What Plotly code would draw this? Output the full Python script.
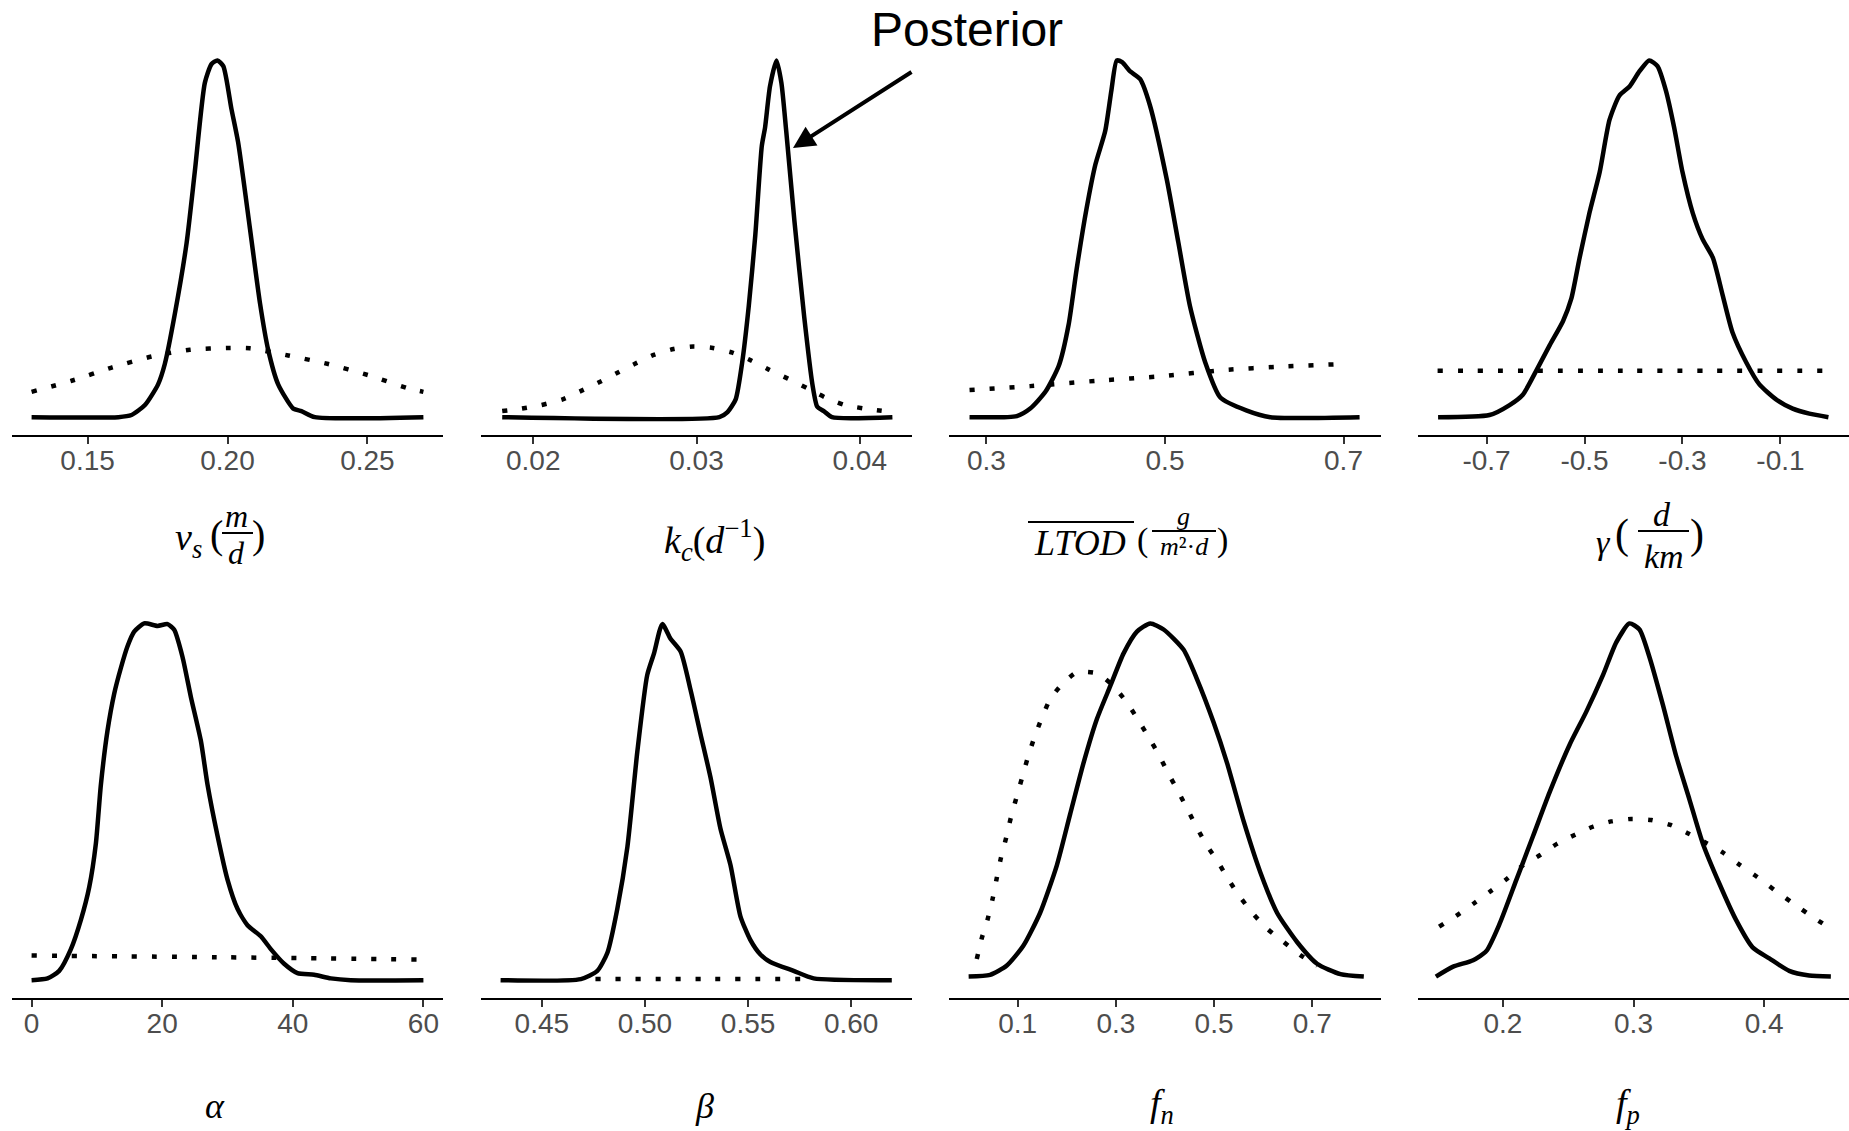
import plotly.graph_objects as go

W, H = 1849, 1131

# ---------------- data (relative density, peak = 1) ----------------
vs_post_x = [0.130, 0.161, 0.1657, 0.1705, 0.1752, 0.1776, 0.1812, 0.1854, 0.1883, 0.1919, 0.1943, 0.1964,
             0.1985, 0.2014, 0.2038, 0.2080, 0.2116, 0.2145, 0.2181, 0.2235, 0.2264, 0.2312, 0.270]
vs_post_y = [0, 0, 0.006, 0.034, 0.092, 0.149, 0.29, 0.489, 0.687, 0.937, 0.99, 1.0,
             0.984, 0.864, 0.77, 0.53, 0.32, 0.19, 0.092, 0.024, 0.017, 0, 0]
vs_prior_x = [0.130, 0.1443, 0.1586, 0.1729, 0.1865, 0.2008, 0.2080, 0.2217, 0.2360, 0.2502, 0.2645, 0.270]
vs_prior_y = [0.071, 0.102, 0.139, 0.170, 0.189, 0.194, 0.193, 0.173, 0.149, 0.118, 0.081, 0.071]

kc_post_x = [0.0181, 0.0314, 0.0319, 0.0324, 0.0328, 0.0332, 0.0336, 0.0340, 0.0342, 0.0345, 0.0349, 0.0352,
             0.0355, 0.0360, 0.0366, 0.0371, 0.0374, 0.0378, 0.0383, 0.042]
kc_post_y = [0, 0, 0.014, 0.05, 0.154, 0.311, 0.509, 0.76, 0.812, 0.927, 1.0, 0.937,
             0.8, 0.549, 0.28, 0.092, 0.029, 0.017, 0, 0]
kc_prior_x = [0.0181, 0.0193, 0.0205, 0.0218, 0.0229, 0.0240, 0.0251, 0.0262, 0.0273, 0.0286, 0.0298,
              0.0310, 0.0322, 0.0333, 0.0344, 0.0356, 0.0368, 0.0379, 0.0391, 0.0403, 0.0415]
kc_prior_y = [0.017, 0.024, 0.034, 0.05, 0.073, 0.097, 0.123, 0.149, 0.173, 0.191, 0.198,
              0.194, 0.181, 0.16, 0.134, 0.108, 0.081, 0.055, 0.034, 0.024, 0.017]

ltod_post_x = [0.281, 0.334, 0.349, 0.366, 0.381, 0.392, 0.401, 0.412, 0.422, 0.433, 0.440, 0.446,
               0.452, 0.461, 0.472, 0.483, 0.502, 0.515, 0.528, 0.545, 0.562, 0.591, 0.618, 0.718]
ltod_post_y = [0, 0.003, 0.024, 0.071, 0.144, 0.259, 0.415, 0.583, 0.708, 0.802, 0.917, 1.0,
               0.995, 0.969, 0.948, 0.875, 0.666, 0.489, 0.311, 0.154, 0.055, 0.019, 0, 0]
ltod_prior_x = [0.281, 0.349, 0.424, 0.498, 0.565, 0.632, 0.700]
ltod_prior_y = [0.076, 0.087, 0.102, 0.115, 0.132, 0.142, 0.149]

gam_post_x = [-0.799, -0.694, -0.653, -0.626, -0.599, -0.571, -0.544, -0.527, -0.510, -0.490, -0.469,
              -0.449, -0.429, -0.408, -0.388, -0.368, -0.351, -0.334, -0.317, -0.300, -0.279, -0.259,
              -0.238, -0.218, -0.198, -0.170, -0.143, -0.109, -0.075, -0.041, -0.002]
gam_post_y = [0, 0.006, 0.034, 0.063, 0.129, 0.202, 0.269, 0.332, 0.447, 0.572, 0.687,
              0.833, 0.901, 0.927, 0.969, 1.0, 0.984, 0.916, 0.812, 0.687, 0.572, 0.499,
              0.447, 0.342, 0.238, 0.154, 0.092, 0.050, 0.024, 0.010, 0]
gam_prior_x = [-0.8, -0.4, 0.0]
gam_prior_y = [0.13, 0.13, 0.13]

alpha_post_x = [0, 2.45, 4.23, 6.02, 7.55, 8.83, 9.85, 10.61, 11.63, 12.65, 13.67, 14.69, 15.71, 17.24,
                19.29, 20.82, 21.84, 23.11, 24.39, 25.92, 26.94, 28.47, 30.0, 31.53, 33.06, 35.1, 36.63,
                38.67, 40.71, 43.27, 45.82, 48.88, 60]
alpha_post_y = [0, 0.005, 0.026, 0.087, 0.169, 0.261, 0.384, 0.548, 0.7, 0.803, 0.875, 0.936, 0.977, 1.0,
                0.993, 0.998, 0.982, 0.906, 0.794, 0.671, 0.548, 0.405, 0.282, 0.200, 0.154, 0.123, 0.087,
                0.046, 0.020, 0.015, 0.005, 0, 0]
alpha_prior_x = [0, 30, 59]
alpha_prior_y = [0.069, 0.064, 0.058]

beta_post_x = [0.430, 0.4689, 0.4769, 0.4818, 0.4866, 0.4915, 0.4963, 0.5011, 0.5044, 0.5084, 0.5124,
               0.5173, 0.5221, 0.5269, 0.5318, 0.5366, 0.5415, 0.5463, 0.5511, 0.5560, 0.5608, 0.5721,
               0.5818, 0.6197]
beta_post_y = [0, 0.003, 0.026, 0.077, 0.2, 0.374, 0.64, 0.855, 0.916, 0.998, 0.957,
               0.921, 0.814, 0.691, 0.568, 0.425, 0.322, 0.179, 0.113, 0.072, 0.051, 0.026,
               0.005, 0]
beta_prior_x = [0.476, 0.528, 0.580]
beta_prior_y = [0.003, 0.003, 0.003]

fn_post_x = [0.0, 0.0438, 0.0778, 0.1117, 0.1457, 0.1797, 0.2069, 0.2341, 0.2613, 0.2884, 0.3156, 0.3428,
             0.37, 0.3972, 0.438, 0.4651, 0.4991, 0.5263, 0.5603, 0.5943, 0.6282, 0.669, 0.7098, 0.7574, 0.805]
fn_post_y = [0.01, 0.015, 0.041, 0.097, 0.189, 0.322, 0.466, 0.609, 0.732, 0.824, 0.916, 0.977,
             1.0, 0.983, 0.926, 0.844, 0.722, 0.609, 0.445, 0.302, 0.189, 0.107, 0.046, 0.017, 0.01]
fn_prior_x = [0.0166, 0.0268, 0.0384, 0.0492, 0.0574, 0.0655, 0.0764, 0.0859, 0.0968, 0.1084, 0.1199,
              0.1335, 0.1491, 0.1661, 0.19, 0.2205, 0.2613, 0.2918, 0.3224, 0.3442, 0.3666, 0.387,
              0.4053, 0.4257, 0.4461, 0.4651, 0.4855, 0.5073, 0.5297, 0.5535, 0.5807, 0.6092, 0.6418,
              0.6758, 0.71]
fn_prior_y = [0.059, 0.118, 0.169, 0.23, 0.287, 0.341, 0.399, 0.455, 0.509, 0.565, 0.621,
              0.679, 0.735, 0.788, 0.829, 0.863, 0.86, 0.829, 0.778, 0.732, 0.681, 0.633,
              0.583, 0.532, 0.478, 0.427, 0.377, 0.333, 0.281, 0.232, 0.184, 0.143, 0.107,
              0.07, 0.041]

fp_post_x = [0.1487, 0.1619, 0.1772, 0.1874, 0.1976, 0.2103, 0.2231, 0.2358, 0.2511, 0.2638, 0.2766,
             0.2868, 0.2969, 0.3046, 0.3122, 0.3224, 0.3326, 0.3428, 0.353, 0.3657, 0.3785, 0.3912,
             0.404, 0.4192, 0.4345, 0.4511]
fp_post_y = [0.01, 0.038, 0.056, 0.082, 0.159, 0.281, 0.404, 0.527, 0.66, 0.752, 0.855,
             0.947, 1.0, 0.983, 0.906, 0.773, 0.629, 0.507, 0.384, 0.271, 0.169, 0.092,
             0.061, 0.026, 0.013, 0.01]
fp_prior_x = [0.1512, 0.1645, 0.1777, 0.1904, 0.2032, 0.2154, 0.2287, 0.2414, 0.2549, 0.2689, 0.2829,
              0.2982, 0.3135, 0.3283, 0.3415, 0.355, 0.3683, 0.381, 0.3945, 0.4078, 0.4205, 0.4332, 0.446]
fp_prior_y = [0.15, 0.181, 0.215, 0.249, 0.284, 0.322, 0.351, 0.382, 0.407, 0.43, 0.445,
              0.452, 0.449, 0.435, 0.412, 0.386, 0.358, 0.324, 0.29, 0.253, 0.22, 0.187, 0.156]

# data range (before 5% expansion), tick values and labels per panel
x_limits = [(0.13, 0.27), (0.018, 0.042), (0.28, 0.72), (-0.8, 0.0),
            (0, 60), (0.43, 0.62), (0.0, 0.8), (0.15, 0.45)]
tick_vals = [[0.15, 0.20, 0.25], [0.02, 0.03, 0.04], [0.3, 0.5, 0.7], [-0.7, -0.5, -0.3, -0.1],
             [0, 20, 40, 60], [0.45, 0.50, 0.55, 0.60], [0.1, 0.3, 0.5, 0.7], [0.2, 0.3, 0.4]]
tick_text = [["0.15", "0.20", "0.25"], ["0.02", "0.03", "0.04"], ["0.3", "0.5", "0.7"],
             ["-0.7", "-0.5", "-0.3", "-0.1"], ["0", "20", "40", "60"],
             ["0.45", "0.50", "0.55", "0.60"], ["0.1", "0.3", "0.5", "0.7"], ["0.2", "0.3", "0.4"]]

posteriors = [(vs_post_x, vs_post_y), (kc_post_x, kc_post_y), (ltod_post_x, ltod_post_y),
              (gam_post_x, gam_post_y), (alpha_post_x, alpha_post_y), (beta_post_x, beta_post_y),
              (fn_post_x, fn_post_y), (fp_post_x, fp_post_y)]
priors = [(vs_prior_x, vs_prior_y), (kc_prior_x, kc_prior_y), (ltod_prior_x, ltod_prior_y),
          (gam_prior_x, gam_prior_y), (alpha_prior_x, alpha_prior_y), (beta_prior_x, beta_prior_y),
          (fn_prior_x, fn_prior_y), (fp_prior_x, fp_prior_y)]

# ---------------- layout geometry (pixels) ----------------
col_px = [(12, 443), (481, 912), (949, 1381), (1418, 1849)]
row_px = [(39, 435), (602, 998)]


def px(x):
    return x / W


def py(y):
    return 1 - y / H


fig = go.Figure()
layout = dict(width=W, height=H, margin=dict(l=0, r=0, t=0, b=0),
              plot_bgcolor="white", paper_bgcolor="white", showlegend=False)

for i in range(8):
    r, c = divmod(i, 4)
    n = "" if i == 0 else str(i + 1)
    lo, hi = x_limits[i]
    pad = 0.05 * (hi - lo)
    layout["xaxis" + n] = dict(
        domain=[px(col_px[c][0]), px(col_px[c][1])], anchor="y" + n,
        range=[lo - pad, hi + pad], tickvals=tick_vals[i], ticktext=tick_text[i],
        showline=True, linecolor="black", linewidth=2, ticks="outside", ticklen=7,
        tickwidth=2, tickcolor="#333333", showgrid=False, zeroline=False,
        ticklabelstandoff=-8,
        tickfont=dict(family="Liberation Sans, Arial", size=28, color="#4D4D4D"),
        fixedrange=True)
    layout["yaxis" + n] = dict(
        domain=[py(row_px[r][1]), py(row_px[r][0])], anchor="x" + n,
        range=[-0.05, 1.06], visible=False, fixedrange=True)
    xp, yp = priors[i]
    fig.add_trace(go.Scatter(x=xp, y=yp, xaxis="x" + n, yaxis="y" + n, mode="lines",
                             line=dict(color="black", width=4.5, dash="5px,15px",
                                       shape="spline", smoothing=0.6),
                             hoverinfo="skip"))
    xq, yq = posteriors[i]
    fig.add_trace(go.Scatter(x=xq, y=yq, xaxis="x" + n, yaxis="y" + n, mode="lines",
                             line=dict(color="black", width=4.5, shape="spline", smoothing=0.6),
                             hoverinfo="skip"))

fig.update_layout(**layout)

# ---------------- axis titles (math-like, built from pieces) ----------------
SERIF = "Liberation Serif, Times New Roman, serif"
anns = []
shapes = []


def t(text, x, y, size, xanchor="center", yanchor="middle"):
    anns.append(dict(text=text, x=px(x), y=py(y), xref="paper", yref="paper", showarrow=False,
                     xanchor=xanchor, yanchor=yanchor,
                     font=dict(family=SERIF, size=size, color="black")))


def hline(x0, x1, y, w=2):
    shapes.append(dict(type="line", xref="paper", yref="paper", x0=px(x0), x1=px(x1),
                       y0=py(y), y1=py(y), line=dict(color="black", width=w)))


# nu_s (m/d)
t("<i>ν</i><sub><i>s</i></sub>", 188, 540, 38)
t("(", 216, 534, 40)
t("<i>m</i>", 237, 516, 32)
hline(222, 253, 533)
t("<i>d</i>", 237, 553, 32)
t(")", 258, 534, 40)

# k_c(d^-1)
t("<i>k</i><sub><i>c</i></sub>(<i>d</i><sup>−1</sup>)", 714, 540, 38)

# LTOD overline (g / m^2 d)
t("<i>LTOD</i>", 1080, 543, 36)
hline(1028, 1134, 522)
t("(", 1142, 540, 34)
t("<i>g</i>", 1183, 516, 26)
hline(1152, 1216, 531)
t("<i>m</i>²·<i>d</i>", 1184, 546, 26)
t(")", 1222, 540, 34)

# gamma (d/km)
t("<i>γ</i>", 1603, 543, 34)
t("(", 1622, 534, 42)
t("<i>d</i>", 1662, 514, 34)
hline(1638, 1689, 531)
t("<i>km</i>", 1664, 556, 34)
t(")", 1697, 534, 42)

# bottom row
t("<i>α</i>", 215, 1106, 36)
t("<i>β</i>", 704, 1106, 36)
t("<i>f</i><sub><i>n</i></sub>", 1162, 1106, 38)
t("<i>f</i><sub><i>p</i></sub>", 1628, 1106, 38)

# Posterior label + arrow
anns.append(dict(text="Posterior", x=px(967), y=py(29), xref="paper", yref="paper", showarrow=False,
                 xanchor="center", yanchor="middle",
                 font=dict(family="Liberation Sans, Arial", size=48, color="black")))
anns.append(dict(text="", x=px(793), y=py(148), xref="paper", yref="paper", showarrow=True,
                 ax=120, ay=-77, arrowhead=2, arrowsize=1.1, arrowwidth=4, arrowcolor="black",
                 standoff=0, startstandoff=0))

fig.update_layout(annotations=anns, shapes=shapes)
fig.write_html("out.html")
